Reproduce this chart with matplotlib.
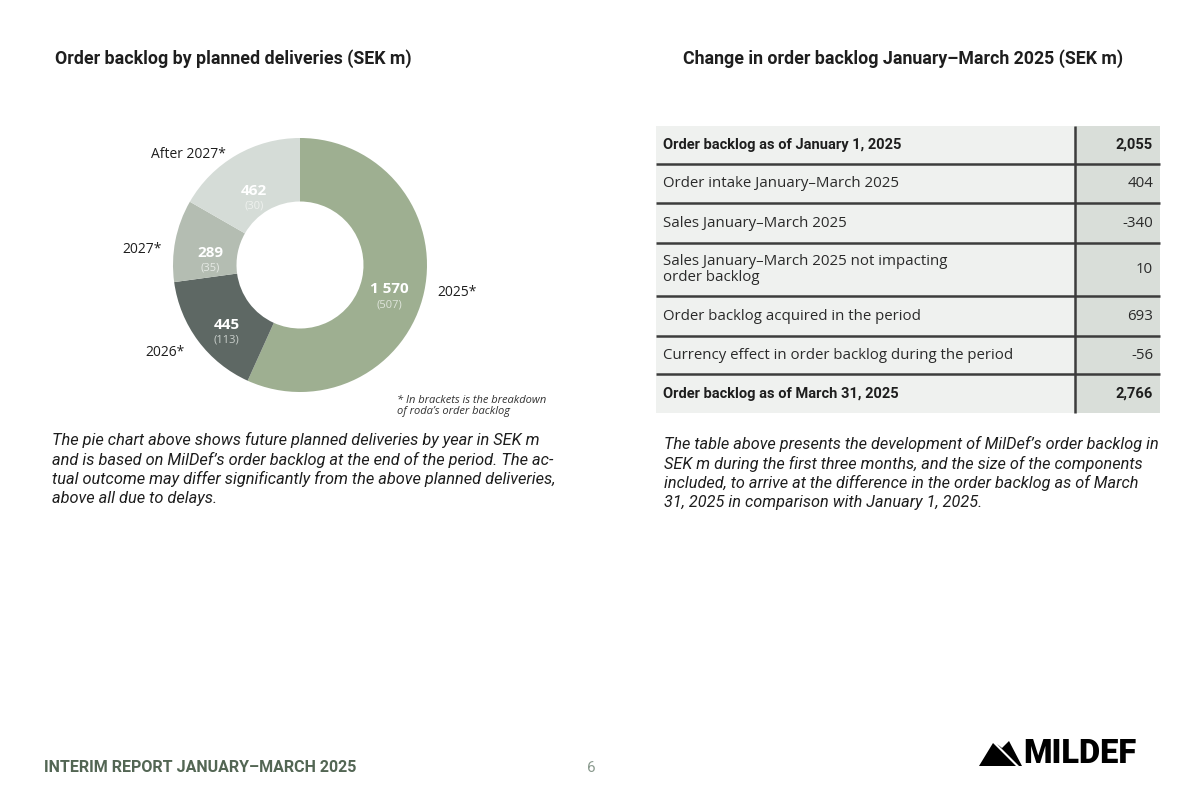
import numpy as np
import matplotlib.pyplot as plt
from matplotlib.patches import Rectangle, Polygon

plt.rcParams['font.family'] = ['Roboto', 'DejaVu Sans']

# donut data
years = ['2025*', '2026*', '2027*', 'After 2027*']
backlog = [1570, 445, 289, 462]
roda = [507, 113, 35, 30]
backlog_labels = ['1 570', '445', '289', '462']
slice_colors = ['#9eaf91', '#5e6864', '#b4bdb2', '#d5dcd7']
bracket_colors = ['#dfe5db', '#c9cfcb', '#e6eae5', '#eef1ee']

# table data
row_labels = [
    'Order backlog as of January 1, 2025',
    'Order intake January\u2013March 2025',
    'Sales January\u2013March 2025',
    'Sales January\u2013March 2025 not impacting\norder backlog',
    'Order backlog acquired in the period',
    'Currency effect in order backlog during the period',
    'Order backlog as of March 31, 2025',
]
row_values = ['2,055', '404', '-340', '10', '693', '-56', '2,766']
row_bold = [True, False, False, False, False, False, True]
row_heights = [38, 39, 40, 53, 40, 38, 39]

fig = plt.figure(figsize=(12, 7.88), dpi=100)
bg = fig.add_axes([0, 0, 1, 1])
bg.set_xlim(0, 1200)
bg.set_ylim(788, 0)
bg.axis('off')

dark = '#1e1e1e'
body = ['Open Sans', 'DejaVu Sans']

# titles
bg.text(55, 59, 'Order backlog by planned deliveries (SEK m)', fontsize=12.8,
        fontweight='bold', color=dark, va='center', ha='left')
bg.text(903, 59, 'Change in order backlog January\u2013March 2025 (SEK m)', fontsize=12.8,
        fontweight='bold', color=dark, va='center', ha='center')

# donut
cx, cy, r = 300, 265, 127
pie_ax = fig.add_axes([(cx - r) / 1200, 1 - (cy + r) / 788, 2 * r / 1200, 2 * r / 788])
wedges, _ = pie_ax.pie(backlog, colors=slice_colors, startangle=90, counterclock=False,
                       radius=1, wedgeprops=dict(width=0.5, linewidth=0))
pie_ax.set_xlim(-1, 1)
pie_ax.set_ylim(-1, 1)
pie_ax.set_aspect('auto')
pie_ax.axis('off')

# where the year labels sit, in donut axes units
year_pos = [(1.24, -0.22), (-1.06, -0.69), (-1.24, 0.12), (-0.88, 0.87)]
for i, w in enumerate(wedges):
    mid = np.deg2rad((w.theta1 + w.theta2) / 2)
    x, y = 0.72 * np.cos(mid), 0.72 * np.sin(mid) - 0.04
    pie_ax.text(x, y, backlog_labels[i], ha='center', va='center', fontsize=11,
                fontweight='bold', color='white', family=body)
    pie_ax.text(x, y - 0.12, f'({roda[i]})', ha='center', va='center', fontsize=8,
                color=bracket_colors[i], family=body)
    pie_ax.text(*year_pos[i], years[i], ha='center', va='center', fontsize=10,
                color=dark, family=body, clip_on=False)

bg.text(397, 406, "* In brackets is the breakdown\nof roda\u2019s order backlog", fontsize=8,
        style='italic', color='#333333', va='center', ha='left', linespacing=0.95,
        family=body)

# paragraphs
left_par = ('The pie chart above shows future planned deliveries by year in SEK m\n'
            'and is based on MilDef\u2019s order backlog at the end of the period. The ac-\n'
            'tual outcome may differ significantly from the above planned deliveries,\n'
            'above all due to delays.')
right_par = ('The table above presents the development of MilDef\u2019s order backlog in\n'
             'SEK m during the first three months, and the size of the components\n'
             'included, to arrive at the difference in the order backlog as of March\n'
             '31, 2025 in comparison with January 1, 2025.')
bg.text(52, 432, left_par, fontsize=11.8, style='italic', color=dark, va='top',
        ha='left', linespacing=1.28)
bg.text(664, 436, right_par, fontsize=11.7, style='italic', color=dark, va='top',
        ha='left', linespacing=1.28)

# table
tx0, tx1, tdiv = 656, 1160, 1075
top = 126
tops = []
for h in row_heights:
    tops.append(top)
    top += h
bottom = top
for i, (lab, val, b, h) in enumerate(zip(row_labels, row_values, row_bold, row_heights)):
    y0 = tops[i]
    bg.add_patch(Rectangle((tx0, y0), tdiv - tx0, h, facecolor='#eff1ef', edgecolor='none'))
    bg.add_patch(Rectangle((tdiv, y0), tx1 - tdiv, h, facecolor='#d9ded9', edgecolor='none'))
    yc = y0 + h / 2
    if b:
        bg.text(663, yc, lab, fontsize=10.5, fontweight='bold', color=dark, va='center', ha='left')
        bg.text(1153, yc, val, fontsize=10.5, fontweight='bold', color=dark, va='center', ha='right')
    else:
        bg.text(663, yc, lab, fontsize=10.8, color='#2a2a2a', va='center', ha='left',
                family=body, linespacing=1.15)
        bg.text(1153, yc, val, fontsize=10.8, color='#2a2a2a', va='center', ha='right',
                family=body)
    if i > 0:
        bg.plot([tx0, tx1], [y0, y0], color='#3c3c3c', linewidth=1.8, solid_capstyle='butt')
bg.plot([tdiv, tdiv], [tops[0], bottom], color='#3c3c3c', linewidth=1.8, solid_capstyle='butt')

# footer
bg.text(44, 768, 'INTERIM REPORT JANUARY\u2013MARCH 2025', fontsize=11.5, fontweight='bold',
        color='#536654', va='center', ha='left')
bg.text(591, 768, '6', fontsize=11, color='#8a9a8e', va='center', ha='center')

# logo
bg.add_patch(Polygon([(979, 766), (993, 743), (1016, 766)], closed=True,
                     facecolor='black', edgecolor='none'))
bg.add_patch(Polygon([(997, 744), (1002, 748), (1009, 741), (1022, 766), (1019, 766)],
                     closed=True, facecolor='black', edgecolor='none'))
bg.text(1023, 754, 'MILDEF', fontsize=23.5, fontweight='heavy', color='black',
        va='center', ha='left')

fig.savefig('out.png', dpi=100, facecolor='white')
